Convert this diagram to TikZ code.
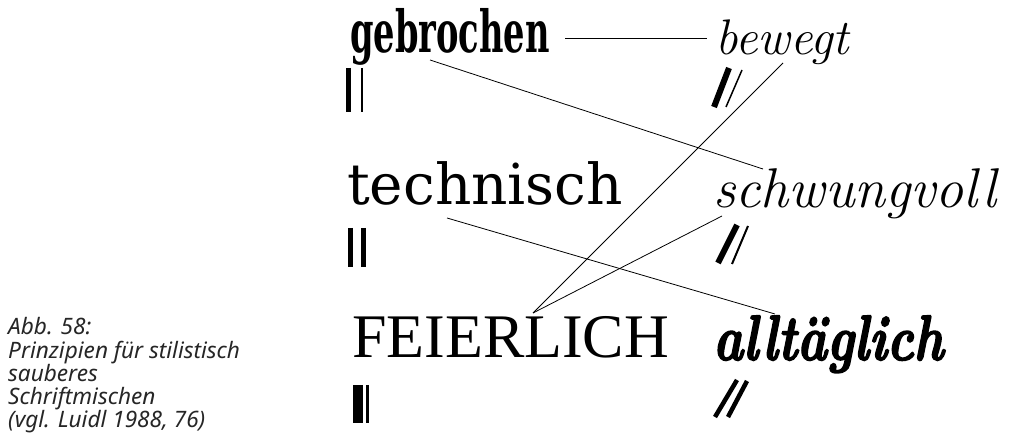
\documentclass[tikz,border=0pt]{standalone}
\usepackage{fontspec}
\usepackage{graphicx}
\newfontfamily\capfont{Noto Sans}
\newfontfamily\slabfont{DejaVu Serif}
\newfontfamily\romanfont{Liberation Serif}
\newfontfamily\brushfont{Latin Modern Roman}[FakeBold=2.5]

\begin{document}
\begin{tikzpicture}[x=1pt,y=-1pt,
  word/.style={anchor=base west,inner sep=0pt},
  link/.style={line width=0.8pt}]
\useasboundingbox (0,0) rectangle (1010,435);

% left column
\node[word,font=\slabfont\bfseries\fontsize{58}{60}\selectfont] (geb) at (350,53) {\scalebox{0.58}[1]{gebrochen}};
\node[word,font=\slabfont\fontsize{56.5}{66}\selectfont] (tec) at (347,205) {technisch};
\node[word,font=\romanfont\fontsize{62}{68}\selectfont] (fei) at (352,358) {FEIERLICH};

% right column
\node[word,font=\itshape\fontsize{50}{60}\selectfont] (bew) at (715,55) {bewegt};
\node[word,font=\itshape\fontsize{56}{64}\selectfont] (sch) at (713,208) {schwungvoll};
\node[word,font=\brushfont\bfseries\itshape\fontsize{64}{66}\selectfont] (all) at (713,360) {\scalebox{0.79}[1]{alltäglich}};

% stroke contrast marks
\draw[line width=5pt] (348,68)--(348,112);
\draw[line width=2pt] (362,68)--(362,112);
\draw[line width=5pt] (350.5,228)--(350.5,267);
\draw[line width=5pt] (363.5,228)--(363.5,267);
\draw[line width=10pt] (358,385)--(358,423);
\draw[line width=2.5pt] (367.5,385)--(367.5,423);

\draw[line width=6pt] (729,68)--(714,107);
\draw[line width=1.5pt] (742,70)--(726,107);
\draw[line width=6pt] (737,225)--(718,263);
\draw[line width=2pt] (748,226)--(732,264);
\draw[line width=4.5pt] (737,380)--(715,417);
\draw[line width=4.5pt] (747,381)--(728,417);

% link ends
\coordinate (geb-r) at (565,38);
\coordinate (geb-b) at (430,60);
\coordinate (bew-l) at (707,38);
\coordinate (bew-b) at (783,63);
\coordinate (tec-b) at (447,218);
\coordinate (sch-t) at (763,169);
\coordinate (sch-b) at (722,216);
\coordinate (fei-t) at (533,313);
\coordinate (all-t) at (775,314);

\draw[link] (geb-r)--(bew-l);
\draw[link] (geb-b)--(sch-t);
\draw[link] (bew-b)--(fei-t);
\draw[link] (fei-t)--(sch-b);
\draw[link] (tec-b)--(all-t);

% caption, anchored at the last line
\node[anchor=base west,inner sep=0pt,align=left,text=black!85,
  font=\capfont\itshape\fontsize{22.6}{23.3}\selectfont] (cap) at (8,428)
  {Abb. 58:\\Prinzipien für stilistisch\\sauberes\\Schriftmischen\\(vgl. Luidl 1988, 76)};
\end{tikzpicture}
\end{document}
